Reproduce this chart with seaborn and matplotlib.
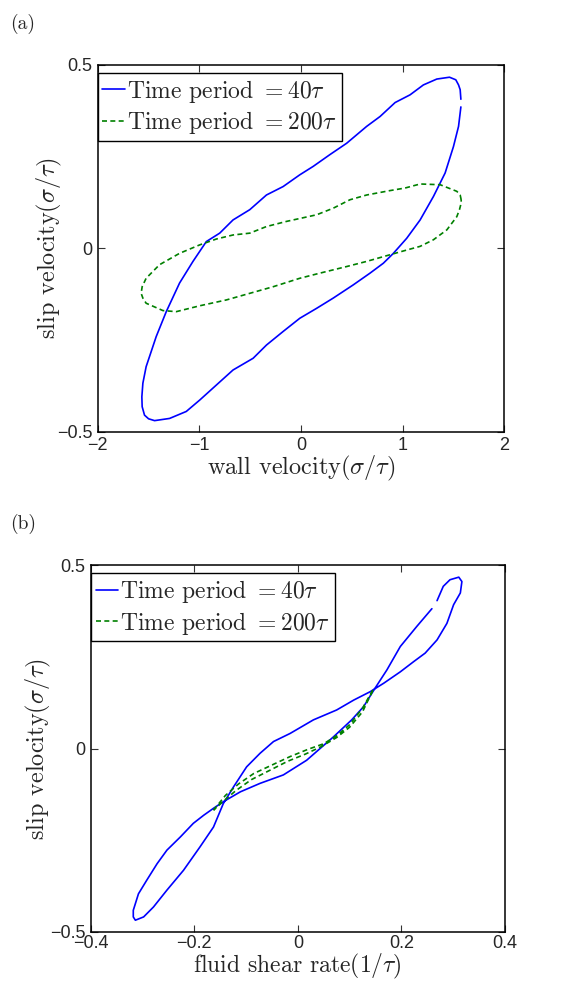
import matplotlib
matplotlib.use("Agg")
import matplotlib.pyplot as plt
import seaborn as sns

# ---------------------------------------------------------------------
# (a) slip velocity vs wall velocity
wall_40 = [1.573, 1.566, 1.550, 1.523, 1.461, 1.336, 1.204, 1.073, 0.926, 0.778,
           0.646, 0.449, 0.284, 0.120, -0.012, -0.176, -0.340, -0.504, -0.669,
           -0.800, -0.932, -1.063, -1.195, -1.326, -1.425, -1.524, -1.556, -1.566,
           -1.563, -1.540, -1.500, -1.441, -1.293, -1.129, -0.997, -0.833, -0.669,
           -0.471, -0.340, -0.176, -0.012, 0.153, 0.317, 0.514, 0.679, 0.810, 0.909,
           1.040, 1.172, 1.303, 1.418, 1.500, 1.550, 1.573]
slip_40a = [0.406, 0.432, 0.445, 0.459, 0.466, 0.461, 0.445, 0.418, 0.397, 0.359,
            0.332, 0.286, 0.255, 0.223, 0.200, 0.168, 0.145, 0.105, 0.077,
            0.041, 0.018, -0.036, -0.095, -0.173, -0.241, -0.323, -0.368, -0.405,
            -0.432, -0.455, -0.465, -0.470, -0.464, -0.445, -0.414, -0.373, -0.332,
            -0.300, -0.264, -0.227, -0.191, -0.164, -0.136, -0.100, -0.068, -0.041,
            -0.014, 0.027, 0.077, 0.141, 0.205, 0.277, 0.332, 0.385]

wall_200 = [1.576, 1.566, 1.533, 1.369, 1.172, 1.024, 0.876, 0.646, 0.481, 0.317,
            0.153, 0.005, -0.143, -0.340, -0.504, -0.669, -0.833, -0.997, -1.195,
            -1.392, -1.524, -1.563, -1.573, -1.556, -1.524, -1.359, -1.228, -0.997,
            -0.734, -0.504, -0.274, -0.012, 0.186, 0.449, 0.646, 0.810, 1.040, 1.172,
            1.303, 1.435, 1.533, 1.559, 1.576, 1.576]
slip_200a = [0.132, 0.145, 0.155, 0.173, 0.175, 0.164, 0.157, 0.145, 0.132, 0.109,
             0.091, 0.082, 0.073, 0.059, 0.041, 0.036, 0.025, 0.009, -0.014,
             -0.045, -0.082, -0.105, -0.123, -0.136, -0.150, -0.170, -0.173, -0.157,
             -0.141, -0.123, -0.105, -0.082, -0.068, -0.050, -0.036, -0.023, -0.005,
             0.005, 0.023, 0.050, 0.086, 0.105, 0.123, 0.132]

# (b) slip velocity vs fluid shear rate
shear_40 = [0.259, 0.230, 0.198, 0.172, 0.149, 0.127, 0.104, 0.069, 0.043, 0.017,
            -0.028, -0.073, -0.111, -0.144, -0.163, -0.182, -0.202, -0.227, -0.253,
            -0.272, -0.292, -0.308, -0.318, -0.318, -0.314, -0.298, -0.279, -0.253,
            -0.221, -0.189, -0.163, -0.144, -0.124, -0.099, -0.073, -0.047, -0.015,
            0.030, 0.075, 0.108, 0.140, 0.166, 0.198, 0.224, 0.246, 0.269, 0.288,
            0.301, 0.314, 0.317, 0.311, 0.294, 0.281, 0.269]
slip_40b = [0.381, 0.333, 0.278, 0.214, 0.164, 0.114, 0.078, 0.032, 0.000, -0.032,
            -0.072, -0.095, -0.118, -0.145, -0.163, -0.182, -0.204, -0.241, -0.277,
            -0.314, -0.359, -0.396, -0.441, -0.459, -0.468, -0.459, -0.432, -0.386,
            -0.332, -0.268, -0.214, -0.150, -0.104, -0.050, -0.013, 0.019, 0.041,
            0.078, 0.105, 0.132, 0.155, 0.178, 0.209, 0.237, 0.260, 0.296, 0.341,
            0.392, 0.424, 0.455, 0.467, 0.460, 0.442, 0.403]

shear_200 = [-0.163, -0.140, -0.115, -0.085, -0.050, -0.015, 0.020, 0.050, 0.075,
             0.100, 0.125, 0.146, 0.125, 0.100, 0.075, 0.045, 0.015, -0.020, -0.055,
             -0.090, -0.120, -0.145, -0.163]
slip_200b = [-0.168, -0.128, -0.097, -0.068, -0.045, -0.022, -0.002, 0.013, 0.035,
             0.065, 0.110, 0.162, 0.100, 0.058, 0.030, 0.005, -0.015, -0.035, -0.060,
             -0.085, -0.115, -0.145, -0.168]

labels = [r"Time period $= 40\tau$", r"Time period $= 200\tau$"]
xticks_a = [-2, -1, 0, 1, 2]
xticks_b = [-0.4, -0.2, 0, 0.2, 0.4]
yticks = [-0.5, 0, 0.5]

# ---------------------------------------------------------------------
sns.set_style("ticks")
plt.rcParams["font.family"] = ["Liberation Sans", "DejaVu Sans"]
plt.rcParams["mathtext.fontset"] = "cm"

SERIF = "cmr10"
BLUE = "#0000ff"
GREEN = "#008000"

fig = plt.figure(figsize=(5.75, 9.81), dpi=100)
ax_a = fig.add_axes([0.170, 0.560, 0.707, 0.374])
ax_b = fig.add_axes([0.158, 0.050, 0.720, 0.374])


def draw(ax, x40, y40, x200, y200, xticks, xlabel, xpad, xlabelsize, ylabelpad):
    sns.lineplot(x=x40, y=y40, sort=False, estimator=None, ax=ax,
                 color=BLUE, linewidth=1.2, label=labels[0])
    sns.lineplot(x=x200, y=y200, sort=False, estimator=None, ax=ax,
                 color=GREEN, linewidth=1.2, linestyle=(0, (3, 2)), label=labels[1])
    for ln in ax.lines:
        ln.set_solid_joinstyle("round")

    ax.set_xlim(xticks[0], xticks[-1])
    ax.set_ylim(-0.5, 0.5)
    ax.set_xticks(xticks)
    ax.set_yticks(yticks)
    ax.set_xticklabels([f"{t:g}".replace("-", "\u2212") for t in xticks])
    ax.set_yticklabels([f"{t:g}".replace("-", "\u2212") for t in yticks])
    ax.tick_params(direction="in", length=5, width=0.8, top=True, right=True,
                   labelsize=13, pad=4, color="#333333")
    ax.tick_params(axis="x", pad=xpad)
    for s in ax.spines.values():
        s.set_linewidth(1.1)
        s.set_color("black")

    ax.set_xlabel(xlabel, family=SERIF, fontsize=xlabelsize, labelpad=0)
    ax.set_ylabel(r"slip velocity$(\sigma/\tau)$", family=SERIF, fontsize=17.5,
                  labelpad=ylabelpad)

    leg = ax.legend(loc="upper left", bbox_to_anchor=(0.0, 0.978), borderaxespad=0,
                    frameon=True, fancybox=False, framealpha=1, edgecolor="black",
                    prop={"family": SERIF, "size": 17}, handlelength=0.95,
                    handletextpad=0.1, borderpad=0.2, labelspacing=0.2)
    leg.get_frame().set_linewidth(1.0)


draw(ax_a, wall_40, slip_40a, wall_200, slip_200a, xticks_a,
     r"wall velocity$(\sigma/\tau)$", 4, 17.5, -5)
draw(ax_b, shear_40, slip_40b, shear_200, slip_200b, xticks_b,
     r"fluid shear rate$(1/\tau)$", 2, 17, -2)

fig.text(0.017, 0.986, "(a)", family=SERIF, fontsize=14, va="top")
fig.text(0.017, 0.476, "(b)", family=SERIF, fontsize=14, va="top")

fig.savefig("out.png", dpi=100)
